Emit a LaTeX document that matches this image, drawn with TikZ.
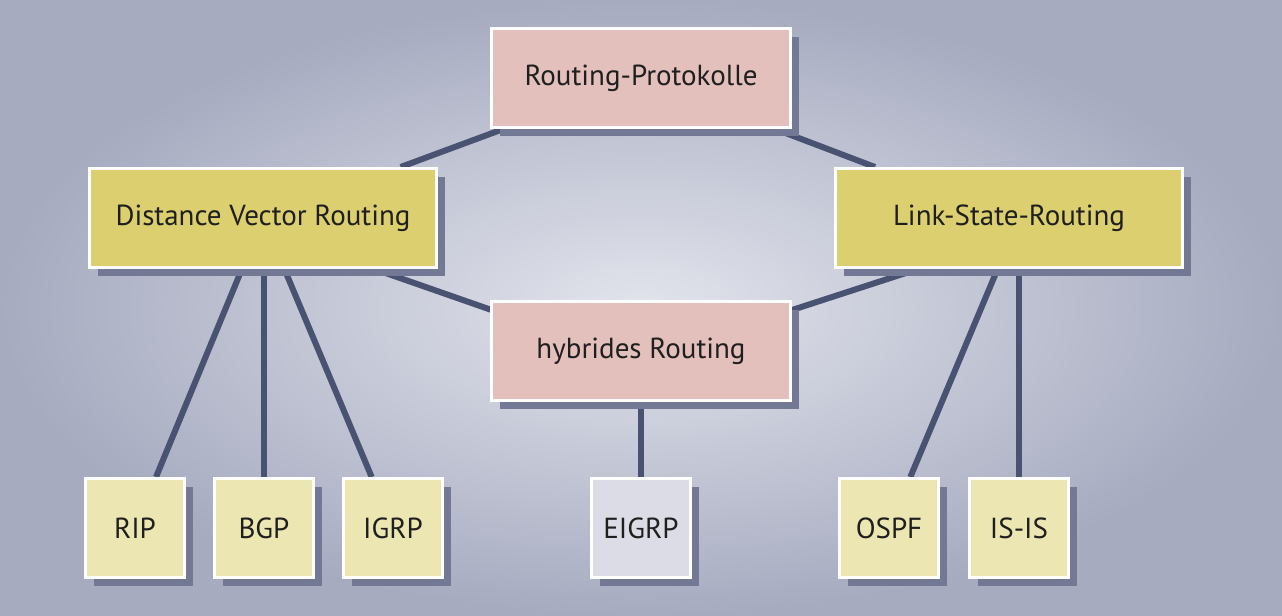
\documentclass[tikz,border=0pt]{standalone}
\usepackage{fontspec}
\setmainfont{PT Sans}
\usepackage{tikz}
\usetikzlibrary{calc}
\usetikzlibrary{shadows}

\definecolor{bgouter}{HTML}{A6ABC0}
\definecolor{bginner}{HTML}{E2E4EC}
\definecolor{linec}{HTML}{4A5272}
\definecolor{shadowc}{HTML}{737894}
\definecolor{rosec}{HTML}{E4C0BC}
\definecolor{mustc}{HTML}{DCCF70}
\definecolor{leafc}{HTML}{ECE6B2}
\definecolor{greyc}{HTML}{DCDCE6}

\pgfdeclarelayer{back}
\pgfdeclarelayer{links}
\pgfsetlayers{back,links,main}

\begin{document}
\begin{tikzpicture}[x=0.5pt,y=-0.5pt,
    box/.style={draw=white, line width=1.5pt, minimum height=49.5pt,
      font=\fontsize{14.5}{16}\selectfont, text=black!88,
      drop shadow={shadow xshift=4pt, shadow yshift=-4pt, opacity=1, fill=shadowc}},
    head/.style={box, fill=rosec, minimum width=149.5pt},
    family/.style={box, fill=mustc, minimum width=173.5pt},
    leaf/.style={box, fill=leafc, minimum width=49.5pt},
    link/.style={draw=linec, line width=3pt}]

      \begin{pgfonlayer}{back}
        \shade[inner color=bginner, outer color=bgouter] (0,0) rectangle (1282,616);
      \end{pgfonlayer}
      \useasboundingbox (0,0) rectangle (1282,616);

      \node[head] (proto) at (641,78) {Routing-Protokolle};
      \node[head] (hybrid) at (641,351) {hybrides Routing};
      \node[family] (dv) at (263,218) {Distance Vector Routing};
      \node[family] (ls) at (1009,218) {Link-State-Routing};

      \node[leaf] (rip) at (135,528) {RIP};
      \node[leaf] (bgp) at (264,528) {BGP};
      \node[leaf] (igrp) at (393,528) {IGRP};
      \node[leaf, fill=greyc] (eigrp) at (641,528) {EIGRP};
      \node[leaf] (ospf) at (889,528) {OSPF};
      \node[leaf] (isis) at (1019,528) {IS-IS};

      \coordinate (lsfoot) at (isis |- ls);

      \begin{pgfonlayer}{links}
        \draw[link] (proto) -- (dv);
        \draw[link] (proto) -- (ls);
        \draw[link] ($(dv)+(-35,0)$) -- ($(hybrid)+(-32,0)$);
        \draw[link] ($(ls)+(66,0)$) -- ($(hybrid)+(25,0)$);
        \draw[link] (dv) -- (rip);
        \draw[link] (bgp) -- (bgp |- dv);
        \draw[link] (dv) -- (igrp);
        \draw[link] (hybrid) -- (eigrp);
        \draw[link] (lsfoot) -- (ospf);
        \draw[link] (lsfoot) -- (isis);
      \end{pgfonlayer}
    \end{tikzpicture}
\end{document}
